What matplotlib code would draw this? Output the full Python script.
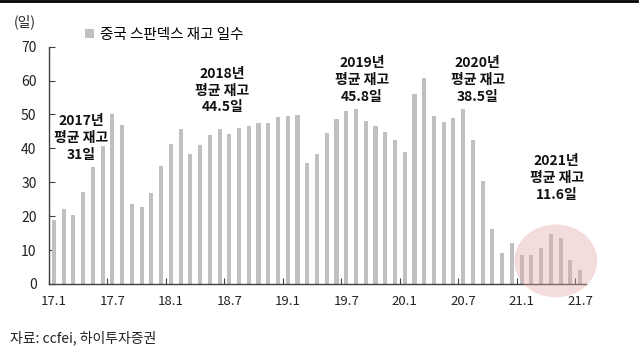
import numpy as np
import matplotlib
matplotlib.use("Agg")
import matplotlib.pyplot as plt
from matplotlib.patches import Ellipse
from matplotlib.lines import Line2D

plt.rcParams['font.family'] = ['Noto Sans CJK KR', 'DejaVu Sans']

# 월별 중국 스판덱스 재고 일수 (2017.1 ~ 2021.7)
months = [f"{y}.{m}" for y in range(17, 22) for m in range(1, 13)][:55]
stock_days = [
    18.9, 22.1, 20.3, 27.2, 34.4, 44.0, 50.0, 46.8, 23.6, 22.6, 26.7, 34.9,
    41.2, 45.6, 38.2, 40.9, 44.0, 45.6, 44.3, 46.0, 46.6, 47.4, 47.4, 49.2,
    49.6, 49.8, 35.7, 38.2, 44.6, 48.8, 51.0, 51.5, 48.0, 46.5, 44.7, 42.6,
    38.9, 55.9, 60.7, 49.7, 47.8, 49.0, 51.5, 42.6, 30.4, 16.3, 9.0, 12.0,
    8.5, 8.5, 10.6, 14.6, 13.6, 7.1, 4.0,
]
tick_labels = ['17.1', '17.7', '18.1', '18.7', '19.1', '19.7', '20.1', '20.7', '21.1', '21.7']
tick_idx = [months.index(t) for t in tick_labels]

# 연도별 평균 재고 주석: (줄 목록, 월 위치, 높이, 흰 배경 여부)
notes = [
    (["2017년", "평균 재고", "31일"], 2.8, 50.0, True),
    (["2018년", "평균 재고", "44.5일"], 17.3, 64.0, False),
    (["2019년", "평균 재고", "45.8일"], 31.6, 67.2, False),
    (["2020년", "평균 재고", "38.5일"], 43.5, 67.2, False),
    (["2021년", "평균 재고", "11.6일"], 51.6, 38.2, False),
]

fig = plt.figure(figsize=(6.4, 3.5), dpi=100)
ax = fig.add_axes([0.0766, 0.1886, 0.839, 0.678])

x = np.arange(len(stock_days))
ax.bar(x, stock_days, width=0.42, color='#c0c0c0', zorder=2, label='중국 스판덱스 재고 일수')

ax.set_xlim(-0.45, 54.6)
ax.set_ylim(0, 70)
ax.set_yticks(range(0, 71, 10))

# 눈금은 구간 경계에, 라벨은 막대 중앙에
ax.set_xticks([i - 0.5 for i in tick_idx])
ax.set_xticklabels([])
ax.set_xticks(tick_idx, minor=True)
ax.set_xticklabels(tick_labels, minor=True)
ax.tick_params(axis='x', which='major', direction='in', length=4, color='#404040')
ax.tick_params(axis='x', which='minor', length=0, labelsize=9.5, colors='#222222', pad=8)
ax.tick_params(axis='y', direction='in', length=4, labelsize=10, colors='#222222',
               pad=9)
ax.tick_params(axis='y', color='#404040')

for s in ['top', 'right']:
    ax.spines[s].set_visible(False)
for s in ['left', 'bottom']:
    ax.spines[s].set_color('#404040')
    ax.spines[s].set_linewidth(1.0)

# 한 줄씩 그려서 2017년 주석은 줄마다 흰 배경으로 막대를 가림
for lines, xpos, ypos, boxed in notes:
    for k, line in enumerate(lines):
        bbox = dict(boxstyle='square,pad=0.05', fc='white', ec='none') if boxed else None
        ax.annotate(line, (xpos, ypos), xytext=(0, -k * 12.0), textcoords='offset points',
                    ha='center', va='top', fontsize=10, fontweight='bold',
                    color='#111111', zorder=4, bbox=bbox)

# 2021년 구간 강조 원
ax.add_patch(Ellipse((51.5, 6.8), 8.5, 21.5, facecolor='#e6a8a8', alpha=0.4,
                     edgecolor='none', zorder=3, clip_on=False))

ax.legend(loc='upper left', bbox_to_anchor=(0.057, 1.105), frameon=False, fontsize=10.5,
          handlelength=0.6, handleheight=0.6, handletextpad=0.4, borderaxespad=0)

fig.text(0.022, 0.925, '(일)', fontsize=10, color='#222222')
fig.text(0.016, 0.022, '자료: ccfei, 하이투자증권', fontsize=10, color='#222222')
fig.add_artist(Line2D([0, 0.995], [0.997, 0.997], color='black', lw=2))

fig.savefig('out.png', dpi=100)
